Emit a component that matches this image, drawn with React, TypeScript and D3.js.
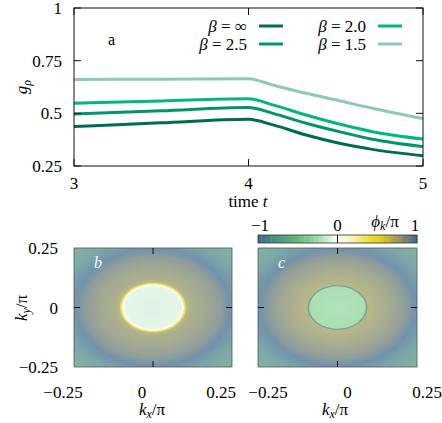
import React, { useMemo } from "react";
import * as d3 from "d3";

// time series for the order parameter g_rho
const times = [3, 3.5, 4, 4.14, 4.33, 4.52, 4.71, 5];
const betaLabels = ["∞", "2.5", "2.0", "1.5"];
const gBetaInf = [0.437, 0.455, 0.472, 0.445, 0.397, 0.358, 0.329, 0.299];
const gBeta25 = [0.497, 0.512, 0.528, 0.5, 0.453, 0.413, 0.377, 0.342];
const gBeta20 = [0.548, 0.559, 0.569, 0.54, 0.492, 0.449, 0.413, 0.378];
const gBeta15 = [0.661, 0.662, 0.664, 0.634, 0.595, 0.56, 0.524, 0.475];
const lineColors = ["#006e4c", "#00966a", "#00b77c", "#8ccbb0"];
const xTicks = [3, 4, 5];
const yTicks = [0.25, 0.5, 0.75, 1];

// cyclic phase colormap
const phaseStops = [-1, -0.8, -0.55, -0.3, -0.1, 0, 0.15, 0.4, 0.55, 0.75, 0.9, 1];
const phaseColors = [
  "#3b6a8c", "#4e8c86", "#5cb26e", "#8fd69a", "#d4f0d8", "#ffffff",
  "#fbf6c4", "#eedc3a", "#dccf1c", "#9c9c5c", "#6a7a74", "#3b6a8c",
];
const barTicks = [-1, 0, 1];

// radial phase profiles phi_k(|k|), unwrapped (wrapped into [-1,1] when drawn)
const radiiB = [0, 0.088, 0.093, 0.096, 0.099, 0.102, 0.106, 0.12, 0.17, 0.215, 0.245, 0.29, 0.36];
const phaseB = [-0.1, -0.08, -0.03, 0.05, 0.45, 0.5, 0.74, 0.79, 0.84, 0.91, 1.0, 1.16, 1.3];
const radiiC = [0, 0.087, 0.09, 0.092, 0.094, 0.096, 0.12, 0.17, 0.215, 0.245, 0.29, 0.36];
const phaseC = [-0.28, -0.32, -0.75, -1.0, -1.2, -1.26, -1.23, -1.17, -1.09, -1.0, -0.84, -0.7];
const kTicks = [-0.25, 0, 0.25];

const FONT = "Liberation Serif";

const colorScale = d3
  .scaleLinear<string>()
  .domain(phaseStops)
  .range(phaseColors)
  .interpolate(d3.interpolateRgb);

const wrap = (p: number) => ((((p + 1) % 2) + 2) % 2) - 1;

function phaseImage(radii: number[], phases: number[], w: number, h: number) {
  const s = 2;
  const canvas = document.createElement("canvas");
  canvas.width = w * s;
  canvas.height = h * s;
  const ctx = canvas.getContext("2d");
  if (!ctx) return "";
  const img = ctx.createImageData(w * s, h * s);
  const kx = d3.scaleLinear().domain([0, w * s]).range([-0.25, 0.25]);
  const ky = d3.scaleLinear().domain([0, h * s]).range([0.25, -0.25]);
  const profile = d3.scaleLinear().domain(radii).range(phases).clamp(true);
  for (let j = 0; j < h * s; j++) {
    for (let i = 0; i < w * s; i++) {
      const r = Math.hypot(kx(i + 0.5), ky(j + 0.5));
      const c = d3.rgb(colorScale(wrap(profile(r))));
      const k = (j * w * s + i) * 4;
      img.data[k] = c.r;
      img.data[k + 1] = c.g;
      img.data[k + 2] = c.b;
      img.data[k + 3] = 255;
    }
  }
  ctx.putImageData(img, 0, 0);
  return canvas.toDataURL();
}

const Beta = ({ x, y, label }: { x: number; y: number; label: string }) => (
  <text x={x} y={y} textAnchor="end" fontSize={17} fontFamily={FONT}>
    <tspan fontStyle="italic">β</tspan> = {label}
  </text>
);

const minus = (t: number) => (t < 0 ? "−" + Math.abs(t) : String(t));

function PhasePanel({
  x0, x1, y0, y1, radii, phases, tag, labelShift,
}: {
  x0: number; x1: number; y0: number; y1: number;
  radii: number[]; phases: number[]; tag: string; labelShift: number;
}) {
  const w = x1 - x0;
  const h = y1 - y0;
  const href = useMemo(() => phaseImage(radii, phases, w, h), [radii, phases, w, h]);
  const kx = d3.scaleLinear().domain([-0.25, 0.25]).range([x0, x1]);
  const ky = d3.scaleLinear().domain([-0.25, 0.25]).range([y1, y0]);
  const tl = 6;
  return (
    <g>
      <image href={href} x={x0} y={y0} width={w} height={h} opacity={0.72} preserveAspectRatio="none" />
      <rect x={x0} y={y0} width={w} height={h} fill="none" stroke="#555" strokeWidth={0.8} />
      <line x1={kx(0)} x2={kx(0)} y1={y0} y2={y0 + tl} stroke="#111" />
      <line x1={kx(0)} x2={kx(0)} y1={y1} y2={y1 - tl} stroke="#111" />
      <line x1={x0} x2={x0 + tl} y1={ky(0)} y2={ky(0)} stroke="#111" />
      <line x1={x1} x2={x1 - tl} y1={ky(0)} y2={ky(0)} stroke="#111" />
      {kTicks.map((t) => (
        <text key={t} x={kx(t) + labelShift} y={398} textAnchor="middle" fontSize={17} fontFamily={FONT}>
          {minus(t)}
        </text>
      ))}
      <text x={x0 + 20} y={y0 + 20} fill="#fff" fontStyle="italic" fontSize={16} fontFamily={FONT}>
        {tag}
      </text>
    </g>
  );
}

const KLabel = ({ x, y, sub, transform }: { x?: number; y?: number; sub: string; transform?: string }) => (
  <text x={x} y={y} transform={transform} textAnchor="middle" fontSize={17} fontFamily={FONT}>
    <tspan fontStyle="italic">k</tspan>
    <tspan fontStyle="italic" fontSize={12} dy={3}>{sub}</tspan>
    <tspan dy={-3}>/π</tspan>
  </text>
);

export default function App() {
  const tx = d3.scaleLinear().domain([3, 5]).range([74, 423]);
  const gy = d3.scaleLinear().domain([0.25, 1]).range([166, 8]);
  const line = d3
    .line<number>()
    .x((_, i) => tx(times[i]))
    .y((d) => gy(d))
    .curve(d3.curveMonotoneX);
  const series = [gBetaInf, gBeta25, gBeta20, gBeta15];

  const bar = d3.scaleLinear().domain([-1, 1]).range([258, 417]);
  const nBar = 48;
  const barCells = d3.range(nBar).map((i) => -1 + (2 * (i + 0.5)) / nBar);
  const cellW = (bar(1) - bar(-1)) / nBar;

  const ky = d3.scaleLinear().domain([-0.25, 0.25]).range([367, 248]);

  return (
    <svg width={442} height={423} fontFamily={FONT} style={{ position: "absolute", left: 0, top: 0, background: "#fff" }}>
      {/* top panel: g_rho vs time */}
      {series.map((s, i) => (
        <path key={i} d={line(s) ?? ""} fill="none" stroke={lineColors[i]} strokeWidth={3} />
      ))}
      <rect x={74} y={8} width={349} height={158} fill="none" stroke="#111" strokeWidth={1} />
      {xTicks.map((t) => (
        <g key={t}>
          <line x1={tx(t)} x2={tx(t)} y1={166} y2={159} stroke="#111" />
          <line x1={tx(t)} x2={tx(t)} y1={8} y2={15} stroke="#111" />
          <text x={tx(t)} y={189} textAnchor="middle" fontSize={17} fontFamily={FONT}>
            {t}
          </text>
        </g>
      ))}
      {yTicks.map((t) => (
        <g key={t}>
          <line x1={74} x2={81} y1={gy(t)} y2={gy(t)} stroke="#111" />
          <line x1={423} x2={416} y1={gy(t)} y2={gy(t)} stroke="#111" />
          <text x={62} y={gy(t) + 6} textAnchor="end" fontSize={17} fontFamily={FONT}>
            {t}
          </text>
        </g>
      ))}
      <text x={248} y={207} textAnchor="middle" fontSize={17} fontFamily={FONT}>
        time <tspan fontStyle="italic">t</tspan>
      </text>
      <text transform="translate(27,87) rotate(-90)" textAnchor="middle" fontSize={17} fontFamily={FONT}>
        <tspan fontStyle="italic">g</tspan>
        <tspan fontStyle="italic" fontSize={12} dy={4}>ρ</tspan>
      </text>
      <text x={108} y={45} fontSize={16} fontFamily={FONT}>
        a
      </text>
      {/* legend, two columns */}
      {betaLabels.map((b, i) => {
        const xr = i < 2 ? 247 : 366;
        const y = i % 2 === 0 ? 26 : 44;
        return (
          <g key={b}>
            <Beta x={xr} y={y + 5.5} label={b} />
            <line x1={xr + 12} x2={xr + 36} y1={y} y2={y} stroke={lineColors[i]} strokeWidth={3} />
          </g>
        );
      })}

      {/* bottom panels: phase maps */}
      <PhasePanel x0={74} x1={232} y0={248} y1={367} radii={radiiB} phases={phaseB} tag="b" labelShift={-11} />
      <PhasePanel x0={258} x1={417} y0={248} y1={367} radii={radiiC} phases={phaseC} tag="c" labelShift={10} />
      {kTicks.map((t) => (
        <text key={t} x={58} y={ky(t) + 6} textAnchor="end" fontSize={17} fontFamily={FONT}>
          {minus(t)}
        </text>
      ))}
      <KLabel x={152} y={415} sub="x" />
      <KLabel x={335} y={415} sub="x" />
      <KLabel transform="translate(27,308) rotate(-90)" sub="y" />

      {/* colorbar */}
      {barCells.map((v, i) => (
        <rect key={i} x={bar(v) - cellW / 2} y={235} width={cellW + 0.4} height={8} fill={colorScale(v)} />
      ))}
      <rect x={258} y={235} width={159} height={8} fill="none" stroke="#333" strokeWidth={0.8} />
      <line x1={bar(0)} x2={bar(0)} y1={235} y2={243} stroke="#111" />
      {barTicks.map((t) => (
        <text key={t} x={bar(t) + (t === -1 ? 2 : t === 1 ? -2 : 0)} y={231} textAnchor="middle" fontSize={17} fontFamily={FONT}>
          {minus(t)}
        </text>
      ))}
      <text x={385} y={227} textAnchor="middle" fontSize={17} fontFamily={FONT}>
        <tspan fontStyle="italic">ϕ</tspan>
        <tspan fontStyle="italic" fontSize={12} dy={3}>k</tspan>
        <tspan dy={-3}>/π</tspan>
      </text>
    </svg>
  );
}
